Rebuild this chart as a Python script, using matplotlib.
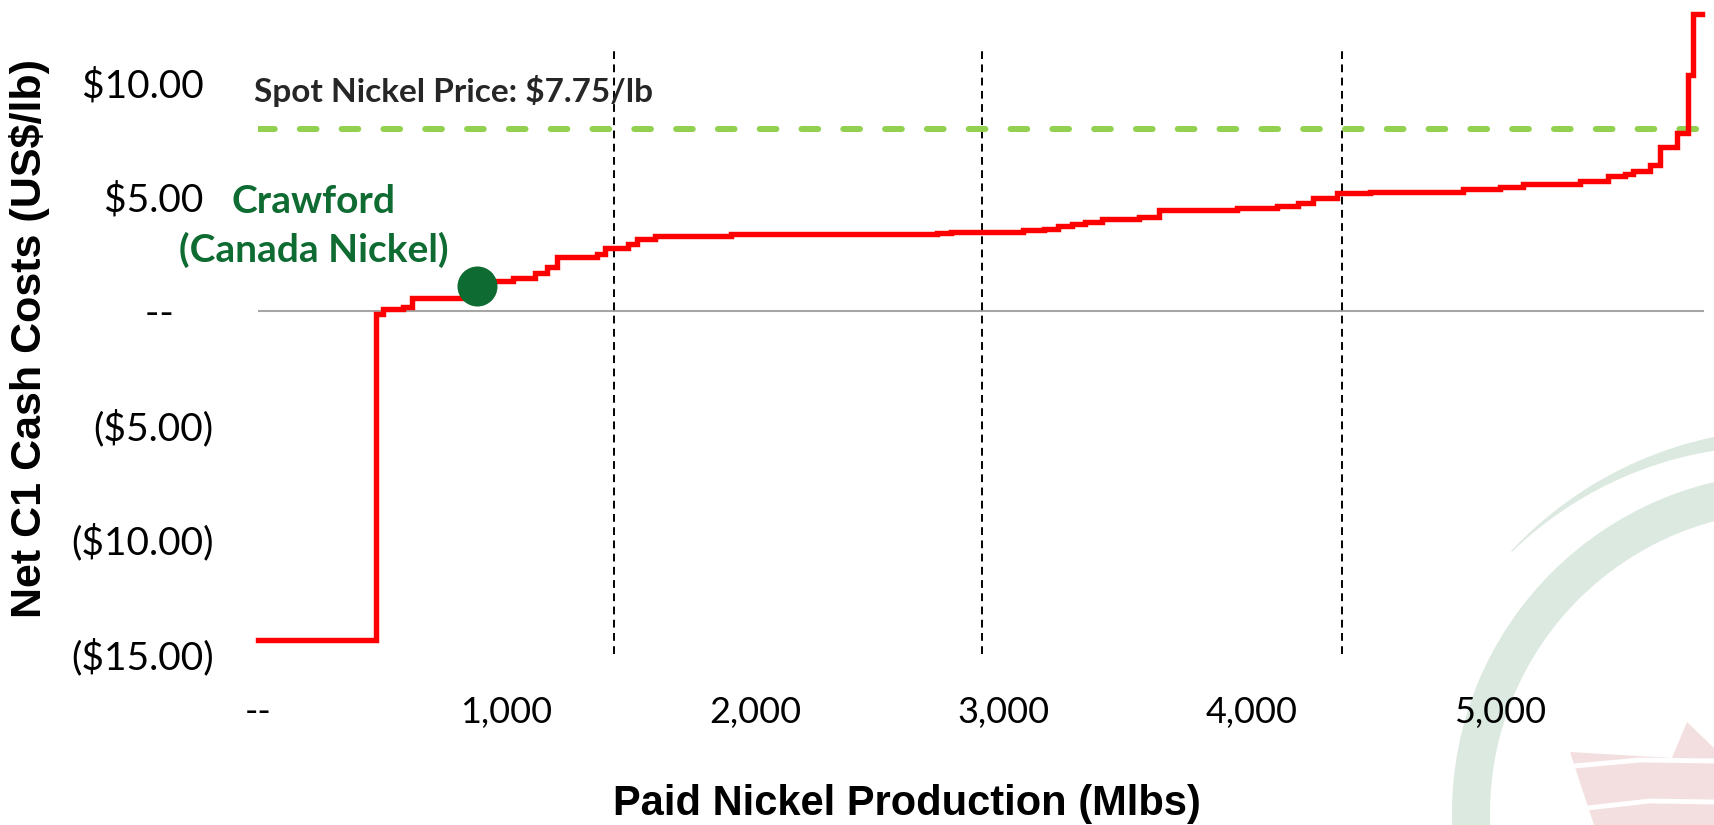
import numpy as np
import matplotlib.pyplot as plt
from matplotlib.patches import Wedge, Polygon

# cost curve: start of each step (Mlbs of paid nickel) and its net C1 cost (US$/lb)
production = [0, 475, 503, 584, 620, 878, 1027, 1115, 1163, 1204, 1365, 1397,
              1490, 1526, 1598, 1904, 2733, 2790, 3080, 3164, 3221, 3277,
              3329, 3398, 3547, 3627, 3941, 4102, 4187, 4247, 4344, 4477,
              4851, 5000, 5093, 5322, 5435, 5503, 5535, 5604, 5644, 5712,
              5757, 5777, 5813]
cost = [-14.4, -0.12, 0.10, 0.15, 0.57, 1.32, 1.45, 1.67, 1.93, 2.37, 2.50, 2.76,
        2.94, 3.16, 3.29, 3.35, 3.40, 3.44, 3.52, 3.60, 3.73, 3.80,
        3.90, 4.00, 4.12, 4.40, 4.50, 4.60, 4.70, 4.95, 5.15, 5.20,
        5.32, 5.40, 5.55, 5.70, 5.90, 6.00, 6.10, 6.40, 7.15, 7.80,
        10.3, 13.0, 13.0]

quartiles = [1433, 2915, 4364]      # dashed quartile markers (Mlbs)
spot_level = 7.95                    # where the spot price line is drawn
spot_label = "Spot Nickel Price: $7.75/lb"
crawford_x, crawford_y = 880, 1.1

yticks = [-15, -10, -5, 0, 5, 10]
yticklabels = ["($15.00)", "($10.00)", "($5.00)", "--    ", "$5.00 ", "$10.00 "]
xticks = [0, 1000, 2000, 3000, 4000, 5000]
xticklabels = ["--", "1,000", "2,000", "3,000", "4,000", "5,000"]

W, H = 1714, 825
fig = plt.figure(figsize=(W / 100, H / 100), dpi=100)

# faint logo watermark in the lower right corner (pixel space)
bg = fig.add_axes([0, 0, 1, 1], zorder=0)
bg.set_xlim(0, W)
bg.set_ylim(H, 0)
bg.axis("off")
ring_green = "#dce9e0"
bg.add_patch(Wedge((1792, 813), 340, 0, 360, width=38, color=ring_green, lw=0))
th = np.radians(np.linspace(223, 265, 60))
r_out = np.full_like(th, 384.0)
r_in = np.linspace(383, 368, 60)
crescent = np.concatenate([
    np.c_[1792 + r_out * np.cos(th), 813 + r_out * np.sin(th)],
    np.c_[1792 + r_in * np.cos(th), 813 + r_in * np.sin(th)][::-1]])
bg.add_patch(Polygon(crescent, closed=True, color=ring_green, lw=0))
bg.add_patch(Polygon([(1570, 752), (1672, 758), (1687, 722), (1714, 748),
                      (1714, 825), (1594, 825)], closed=True,
                     color="#f3dfdf", lw=0))
bg.plot([1574, 1640, 1714], [766, 760, 761], color="white", lw=3.5)
bg.plot([1587, 1650, 1714], [808, 801, 802], color="white", lw=3.5)

ax = fig.add_axes([258 / W, 1 - 665 / H, (1704 - 258) / W, 665 / H], zorder=2)
ax.set_facecolor("none")
ax.set_xlim(0, 5820)
ax.set_ylim(-15.5, 13.6)
for side in ax.spines:
    ax.spines[side].set_visible(False)

ax.axhline(0, color="#a6a6a6", lw=1.5, zorder=1)
ax.vlines(quartiles, -15, 11.5, colors="black", lw=1.4,
          linestyles=(0, (4, 2.8)), zorder=2)
ax.axhline(spot_level, color="#92d050", lw=4.3, linestyle=(0, (2.8, 4.2)),
           dash_capstyle="round", zorder=3)
ax.step(production, cost, where="post", color="#ff0000", lw=3.9,
        solid_joinstyle="miter", zorder=4, clip_on=False)
ax.scatter([crawford_x], [crawford_y], s=830, color="#0e6b31", zorder=5,
           linewidths=0)

ax.text(-15, 9.6, spot_label, fontsize=24, fontweight="bold", color="#262626",
        family="Lato", va="center", ha="left")
ax.text(225, 4.8, "Crawford", fontsize=28, fontweight="bold",
        color="#0e6b31", family="Lato", ha="center", va="center")
ax.text(225, 2.65, "(Canada Nickel)", fontsize=28, fontweight="bold",
        color="#0e6b31", family="Lato", ha="center", va="center")

ax.set_yticks(yticks)
ax.set_yticklabels(yticklabels, fontsize=28, family="Lato")
ax.set_xticks(xticks)
ax.set_xticklabels(xticklabels, fontsize=26, family="Lato")
ax.tick_params(axis="y", length=0, pad=32)
ax.tick_params(axis="x", length=0, pad=22)

fig.text(907 / W, 1 - 804 / H, "Paid Nickel Production (Mlbs)", fontsize=30,
         fontweight="bold", family="Liberation Sans", ha="center", va="center")
fig.text(30 / W, 1 - 339 / H, "Net C1 Cash Costs (US$/lb)", fontsize=31,
         fontweight="bold", family="Liberation Sans", ha="center",
         va="center", rotation=90)

fig.savefig("out.png", dpi=100)
